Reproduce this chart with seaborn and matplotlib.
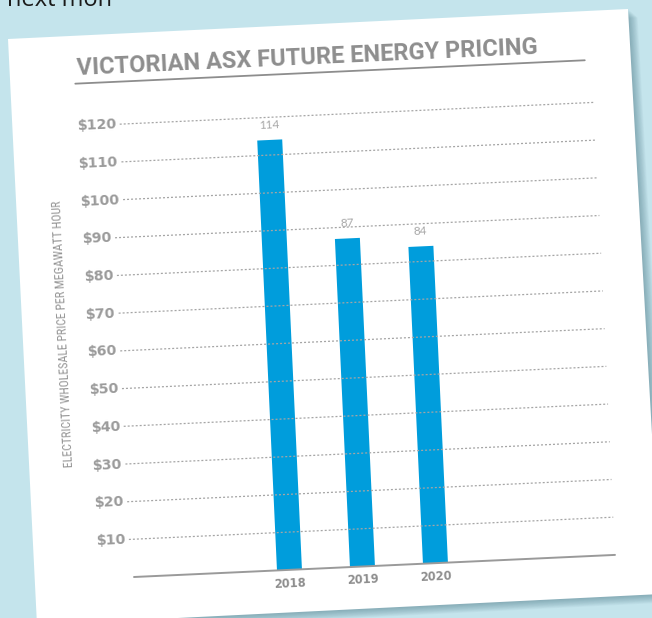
import numpy as np
import seaborn as sns
import matplotlib.pyplot as plt
from matplotlib.transforms import Affine2D, IdentityTransform
from matplotlib.patches import Polygon
from matplotlib.lines import Line2D

# data
years = ['2018', '2019', '2020']
prices = [114, 87, 84]
grid_values = [10, 20, 30, 40, 50, 60, 70, 80, 90, 100, 110, 120]
grid_labels = ['$' + str(v) for v in grid_values]
title = 'VICTORIAN ASX FUTURE ENERGY PRICING'
ylabel = 'ELECTRICITY WHOLESALE PRICE PER MEGAWATT HOUR'

W, H = 652, 618
ANG = 2.63           # tilt of the page, degrees
X0, Y0 = 134, 41     # pivot: left end of the baseline (pixels from bottom-left)
PPV = 3.775          # pixels per dollar
XMIN, XMAX = -2.13, 4.46
BLUE = '#009ddc'
NARROW = ['Roboto Condensed', 'Liberation Sans Narrow', 'DejaVu Sans Condensed', 'Lato']

sns.set_style('white')
plt.rcParams['font.family'] = ['Lato', 'DejaVu Sans']

fig = plt.figure(figsize=(W / 100, H / 100), dpi=100)
fig.patch.set_facecolor('#c4e4ec')

tilt = Affine2D().rotate_deg_around(X0, Y0, ANG)
page = Affine2D().translate(X0, Y0) + tilt   # unrotated pixel offsets from pivot

# the paper sheet and its shadow
card = np.array([(8, 39), (628, 9), (661, 594), (37, 625)], float)
card[:, 1] = H - card[:, 1]
for k in range(12, 0, -1):
    fig.add_artist(Polygon(card + [k * 0.8, -k * 0.7], transform=IdentityTransform(),
                           fc='#3f6f7c', ec='none', alpha=0.045, zorder=-3))
fig.add_artist(Polygon(card, transform=IdentityTransform(), fc='white', ec='none', zorder=-2))

fig.text(7, H - 6, 'next mon', transform=IdentityTransform(), fontsize=17,
         color='#1a1a1a', family=['Open Sans', 'DejaVu Sans'], va='baseline')

ax = fig.add_axes([X0 / W, Y0 / H, 481.5 / W, 130 * PPV / H])
sns.barplot(x=years, y=prices, color=BLUE, saturation=1, width=0.342, linewidth=0, ax=ax)
ax.set_xlim(XMIN, XMAX)
ax.set_ylim(0, 130)
ax.axis('off')
ppx = 481.5 / (XMAX - XMIN)
rot = ax.transData + tilt

for p in ax.patches:
    p.set_transform(rot)
    p.set_clip_on(False)

renderer = fig.canvas.get_renderer()

# y tick labels + dotted gridlines
xlab = XMIN - 36 / ppx
for v, lab in zip(grid_values, grid_labels):
    t = ax.text(xlab, v, lab, ha='left', va='center', fontsize=10.3, fontweight='bold',
                color='#9b9b9b', family='DejaVu Sans')
    w = t.get_window_extent(renderer).width
    t.set_transform(rot)
    t.set_rotation(ANG)
    t.set_rotation_mode('anchor')
    ln, = ax.plot([xlab + (w + 3) / ppx, XMAX], [v, v], color='#a5a5a5', lw=0.9,
                  ls=(0, (1.6, 1.6)))
    ln.set_transform(rot)
    ln.set_clip_on(False)

base, = ax.plot([XMIN, XMAX], [0, 0], color='#9a9a9a', lw=1.4)
base.set_transform(rot)
base.set_clip_on(False)

# value and year labels
for i, (yr, val) in enumerate(zip(years, prices)):
    ax.text(i, val + 4, str(val), transform=rot, rotation=ANG, rotation_mode='anchor',
            ha='center', va='center', fontsize=8.5, color='#a8a8a8')
    ax.text(i, -3.6, yr, transform=rot, rotation=ANG, rotation_mode='anchor',
            ha='center', va='center', fontsize=8.3, fontweight='bold', color='#8e8e8e',
            family='DejaVu Sans')

# title, fitted to its width on the sheet
tt = fig.text(-34, 504, title, transform=page, ha='left', va='baseline', fontsize=18,
              fontweight='bold', color='#8e8e8e', family=['Roboto', 'Lato'])
tw = tt.get_window_extent(renderer).width
tt.set_fontsize(18 * 460 / tw)
tt.set_rotation(ANG)
tt.set_rotation_mode('anchor')
fig.add_artist(Line2D([-36, 474], [495.5, 495.5], transform=page, color='#8d8d8d', lw=1.3))

yl = fig.text(-59.2, 246.5, ylabel, transform=page, ha='center', va='center', fontsize=9,
              color='#959595', family=NARROW)
yw = yl.get_window_extent(renderer).width
yl.set_fontsize(9 * 267 / yw)
yl.set_rotation(90 + ANG)
yl.set_rotation_mode('anchor')

fig.savefig('out.png', dpi=100)
